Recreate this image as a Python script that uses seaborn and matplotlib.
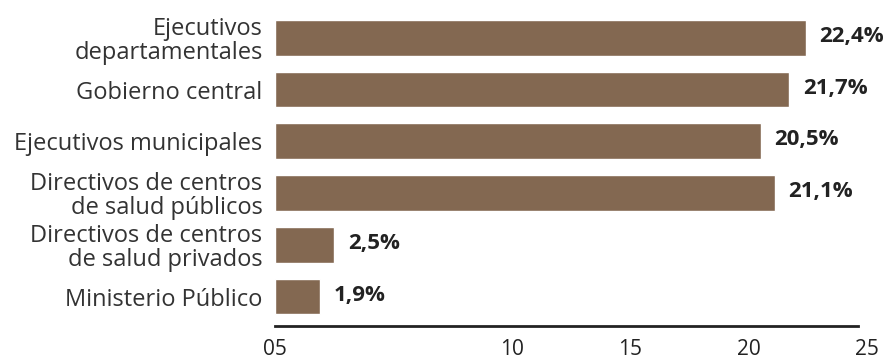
import matplotlib
matplotlib.use("Agg")
import matplotlib.pyplot as plt
import seaborn as sns
import pandas as pd

categories = [
    "Ejecutivos\ndepartamentales",
    "Gobierno central",
    "Ejecutivos municipales",
    "Directivos de centros\nde salud públicos",
    "Directivos de centros\nde salud privados",
    "Ministerio Público",
]
values = [22.4, 21.7, 20.5, 21.1, 2.5, 1.9]
tick_values = [0, 10, 15, 20, 25]
tick_labels = ["05", "10", "15", "20", "25"]

sns.set_style("white")
plt.rcParams["font.family"] = ["Open Sans", "DejaVu Sans"]

df = pd.DataFrame({"cat": categories, "val": values})

fig = plt.figure(figsize=(8.88, 3.61), dpi=100)
ax = fig.add_axes([275 / 888, 35 / 361, (879 - 275) / 888, (361 - 12 - 35) / 361])

bar_color = "#836851"
sns.barplot(data=df, y="cat", x="val", orient="h", color=bar_color,
            width=0.69, saturation=1, ax=ax)

ax.set_xlim(0, 25.5)
ax.set_ylim(5.57, -0.5)

for i, v in enumerate(values):
    ax.annotate(f"{v:.1f}".replace(".", ",") + "%", xy=(v, i), xytext=(10, 1),
                textcoords="offset points", ha="left", va="center",
                fontsize=16, fontweight="bold", color="#222222")

ax.set_xticks(tick_values)
ax.set_xticklabels(tick_labels, fontsize=15, color="#222222")
ax.tick_params(axis="x", length=0, pad=9.5)
ax.tick_params(axis="y", length=0, pad=9)
for lab in ax.get_yticklabels():
    lab.set_fontsize(17)
    lab.set_color("#333333")
    lab.set_linespacing(1.0)

ax.set_xlabel("")
ax.set_ylabel("")
for s in ["top", "right", "left"]:
    ax.spines[s].set_visible(False)
ax.spines["bottom"].set_color("#222222")
ax.spines["bottom"].set_linewidth(2)
ax.spines["bottom"].set_bounds(0, 24.6)

fig.savefig("out.png", dpi=100)
